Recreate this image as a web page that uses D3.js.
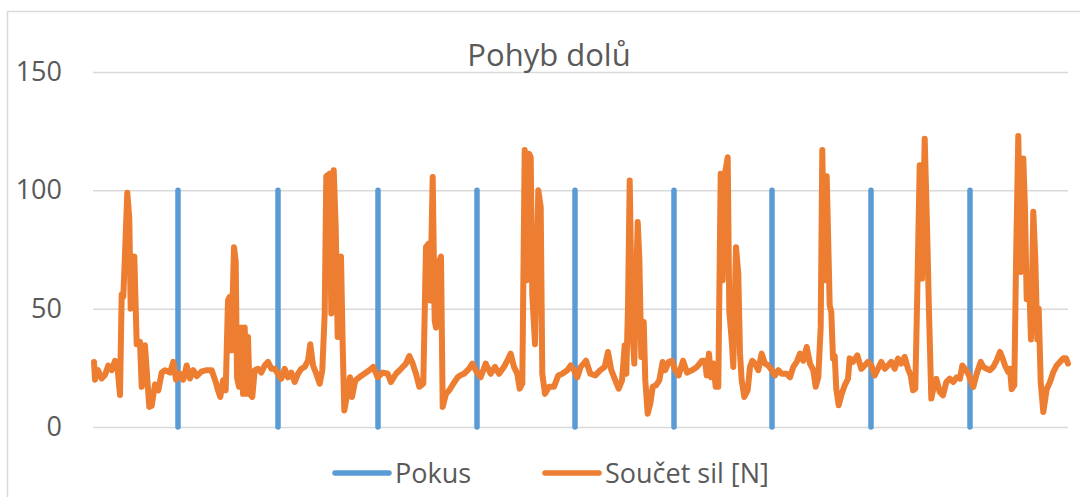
<!DOCTYPE html>
<html>
<head>
  <meta charset="utf-8">
  <script src="https://d3js.org/d3.v7.min.js"></script>
  <style>
    body { margin:0; background:#fff; overflow:hidden; }
    text { font-family: "Open Sans", "Noto Sans", sans-serif; fill:#595959; }
  </style>
</head>
<body>
<script>
  const width = 1080;
  const height = 497;
  const margin = { top: 72, right: 12, bottom: 70, left: 93 };

  // chart data
  const title = "Pohyb dolů";
  const seriesNames = ["Pokus", "Součet sil [N]"];
  const seriesColors = ["#5B9BD5", "#ED7D31"];
  const yTicks = [0, 50, 100, 150];

  // Pokus: markers at these sample positions, value 100
  const pokusT = [85, 185, 285, 384, 482, 581, 679, 778, 877];
  const pokusV = 100;

  // Součet sil [N]: sample position and force
  const silaT = [1, 2, 5, 8.7, 12, 15.3, 18.7, 22, 24.3, 27, 28.7, 30.3, 32, 34.3, 36.3, 37.7, 41.3, 43.7, 47, 48.7,
    52, 53.7, 56.3, 58.7, 62, 65.3, 68.7, 72, 77, 80.3, 83, 87, 90.3, 93.7, 97, 100.3, 103.7, 108.7, 113.7, 118.7,
    122.7, 125, 127.3, 130, 132.7, 135, 136.7, 138.3, 141, 142.7, 144, 146, 148.3, 150, 151.7, 153.3, 155, 156.7, 159.3, 161.7,
    165, 168.3, 171.7, 175, 178.3, 181.7, 185, 188.3, 191.7, 195, 198.3, 201.7, 205, 208.3, 211.7, 215, 217.3, 220, 223.3, 226.7,
    229.3, 231.7, 233.3, 236.7, 238.3, 240.7, 242.7, 244.7, 248, 249.7, 251.3, 253.7, 257, 259, 262.3, 266.3, 271.3, 276.3, 280.3, 284.7,
    289.7, 294.7, 298, 303, 308, 313, 316.3, 319.7, 323, 326.3, 330.3, 333, 335.7, 337.3, 339.7, 341.7, 343, 346.3, 348, 349.7,
    353, 356.3, 360.3, 364.7, 368, 371, 376, 379.3, 382.7, 387.7, 392.7, 397.7, 402, 406, 411, 414.3, 417.7, 421, 424.3, 426.7,
    429.3, 431.7, 433.7, 436, 437.7, 439.3, 442, 445.3, 447.7, 449.3, 452, 456, 461, 465.3, 469.3, 474.3, 477.7, 481, 484.3, 487.7,
    491, 493, 497.3, 502.3, 507.3, 511.7, 515, 518.3, 522.3, 525.7, 529, 531.7, 533.3, 535, 536.7, 539, 541.3, 544.7, 546.3, 548.3,
    550.7, 552.3, 554.7, 557.3, 559.7, 563, 566.3, 569.7, 572.3, 575.7, 579, 582.3, 585.7, 590, 594, 599, 604, 609, 612, 613.7,
    616, 618, 620.3, 622.7, 625.3, 627.7, 629.7, 632, 634.7, 636.3, 638.7, 640.3, 643, 645.3, 647, 648.7, 651.3, 654.7, 657, 659.3,
    662, 665.3, 668.7, 672, 675.3, 678.7, 682, 685.3, 688.7, 693.7, 697, 700.3, 703.7, 707, 710.3, 713.7, 717, 720.3, 722.7, 725.3,
    727.7, 729.3, 731.3, 733.7, 736.7, 738.3, 740, 741.7, 743.3, 745.7, 748.3, 751.7, 755, 756.7, 760, 764.3, 768.3, 771.7, 775, 778.3,
    781.7, 785, 788.3, 791.7, 795, 798.3, 801.7, 805, 808.3, 811.7, 815, 817.7, 820, 822.3, 824.3, 826.7, 829, 831.7, 834, 836,
    838.3, 841, 843.3, 846.7, 850, 853.3, 856.7, 860.3, 863.7, 867, 869.3, 872, 875.3, 877.7, 880.3, 883.7, 887.7, 890.3, 893.7, 897,
    900.3, 903.7, 907, 909.7, 912, 915.3, 917, 918.7, 921.3, 923, 925.3, 927.7, 930.3, 932, 933.7, 936.3, 938, 940.3, 942.3, 944.3,
    945.7, 947.7, 950.3, 953.7, 957, 960.3, 963.7, 967, 970.3, 973, 975];
  const silaV = [27.5, 20, 24, 20.5, 22, 26, 24, 28, 26, 13.5, 56, 55, 73, 99, 88, 50, 72, 35, 36, 17,
    34.5, 24, 8.5, 9, 18, 15.5, 23, 24, 23, 27.5, 20, 22.5, 20, 26, 20.5, 24, 21.5, 23.5, 24, 24,
    19, 15.5, 12.7, 19.7, 15.5, 53.5, 55, 32.4, 76, 70, 21, 17, 42, 14, 42, 14, 38, 14, 12.7, 24,
    24.6, 23, 26, 27.5, 24.6, 24.6, 22.5, 20.4, 24.6, 21, 23, 19, 22.5, 24.6, 25.4, 28, 35, 26, 22.5, 18.3,
    24, 48, 106, 107, 48, 108.5, 84.5, 38, 72, 34, 7, 12.7, 21, 12.7, 19.7, 21, 22.5, 24, 25.4, 21,
    23, 22.5, 19, 22.5, 24.6, 26.8, 30, 26.8, 22.5, 17, 18.3, 76, 77.5, 53.5, 105.6, 45, 42, 70, 72, 8.5,
    14, 15.5, 18.3, 21, 22, 22.5, 24.6, 26.8, 24, 21, 26.8, 22.5, 25.4, 22.5, 25.4, 28, 31, 25.4, 22.5, 16.2,
    18.3, 117, 62, 115.5, 114, 56, 35, 100, 93, 22.5, 14, 17, 17, 21.8, 22.5, 24, 26, 24, 21, 25.4,
    27, 28, 22.5, 21.8, 24, 25.4, 31.7, 24, 19.7, 16.2, 19.7, 34.5, 22.5, 50.7, 104.2, 43.7, 26.8, 86.6, 71.8, 29.6,
    44.4, 19.7, 5.6, 9.9, 17, 17.6, 19.7, 27.5, 24, 27.5, 28, 24, 21.8, 28, 23, 24, 25.4, 28, 28, 21.8,
    31, 21, 26.8, 17, 17, 107, 62, 107, 114, 49, 36.6, 25.4, 76, 64.8, 31, 19.7, 12.7, 15.5, 25.4, 28,
    26.8, 24, 31, 26.8, 26, 24, 21.8, 24, 22.5, 22.5, 21, 25.4, 27.5, 31, 28, 33.8, 26.8, 24, 17, 21,
    42.3, 117, 62, 106, 51.4, 48.6, 29, 30, 16, 9.2, 13.4, 17.6, 20.4, 29, 27.5, 30.3, 24.6, 26, 27.5, 26,
    21.8, 24.6, 27.5, 24.6, 26, 27.5, 24.6, 28.9, 26.8, 29.6, 24.6, 21.8, 15.5, 16.2, 57, 110.6, 62.7, 121.8, 85, 48.6,
    12, 17.6, 20.4, 14.8, 13.4, 19, 20.4, 19, 21, 20.4, 26, 24.6, 22.5, 19.7, 16.9, 22.5, 27.5, 25.4, 24.6, 24,
    25.4, 28.2, 31.7, 28.9, 26, 23.2, 24.6, 16, 17.6, 68.3, 123, 65.5, 113.4, 92, 54, 60, 37, 91, 71, 37,
    50, 19, 6.3, 16, 19, 23.2, 26, 27.5, 29, 29, 26.8];

  const sila = silaT.map((t, i) => ({ t: t, v: silaV[i] }));

  const svg = d3.select("body").append("svg")
    .attr("width", width)
    .attr("height", height);

  // chart area border
  svg.append("rect")
    .attr("x", 7.5).attr("y", 11.5)
    .attr("width", 1090).attr("height", 500)
    .attr("fill", "none")
    .attr("stroke", "#D9D9D9")
    .attr("stroke-width", 1.5);

  const xScale = d3.scaleLinear()
    .domain([0, 975])
    .range([margin.left, width - margin.right]);
  const yScale = d3.scaleLinear()
    .domain([0, 150])
    .range([height - margin.bottom, margin.top]);

  // gridlines
  svg.append("g")
    .attr("transform", `translate(${margin.left},0)`)
    .call(d3.axisLeft(yScale).tickValues(yTicks).tickSize(-(xScale.range()[1] - xScale.range()[0])).tickFormat(""))
    .call(g => g.select(".domain").remove())
    .call(g => g.selectAll("line").attr("stroke", "#D9D9D9").attr("stroke-width", 1.5));

  // y labels
  svg.append("g")
    .attr("transform", `translate(${margin.left},0)`)
    .call(d3.axisLeft(yScale).tickValues(yTicks).tickSize(0).tickPadding(31))
    .call(g => g.select(".domain").remove())
    .call(g => g.selectAll("text")
      .style("font-family", '"Open Sans", sans-serif')
      .attr("font-size", 27)
      .attr("fill", "#595959"));

  // Pokus
  svg.append("g").selectAll("line")
    .data(pokusT)
    .enter()
    .append("line")
    .attr("x1", d => xScale(d))
    .attr("x2", d => xScale(d))
    .attr("y1", yScale(0))
    .attr("y2", yScale(pokusV))
    .attr("stroke", seriesColors[0])
    .attr("stroke-width", 5.5)
    .attr("stroke-linecap", "round");

  // Součet sil
  const line = d3.line()
    .x(d => xScale(d.t))
    .y(d => yScale(d.v));
  svg.append("path")
    .datum(sila)
    .attr("d", line)
    .attr("fill", "none")
    .attr("stroke", seriesColors[1])
    .attr("stroke-width", 6)
    .attr("stroke-linejoin", "round")
    .attr("stroke-linecap", "round");

  // title
  svg.append("text")
    .attr("x", 549)
    .attr("y", 66)
    .attr("text-anchor", "middle")
    .attr("font-size", 31)
    .text(title);

  // legend
  const legend = svg.selectAll(".legend")
    .data(seriesNames)
    .enter()
    .append("g")
    .attr("class", "legend")
    .attr("transform", (d, i) => `translate(${335 + i * 210},473)`);
  legend.append("line")
    .attr("x1", 0).attr("x2", 54)
    .attr("y1", 0).attr("y2", 0)
    .attr("stroke", (d, i) => seriesColors[i])
    .attr("stroke-width", 5.5)
    .attr("stroke-linecap", "round");
  legend.append("text")
    .attr("x", 60)
    .attr("y", 10)
    .attr("font-size", 27)
    .text(d => d);
</script>
</body>
</html>
